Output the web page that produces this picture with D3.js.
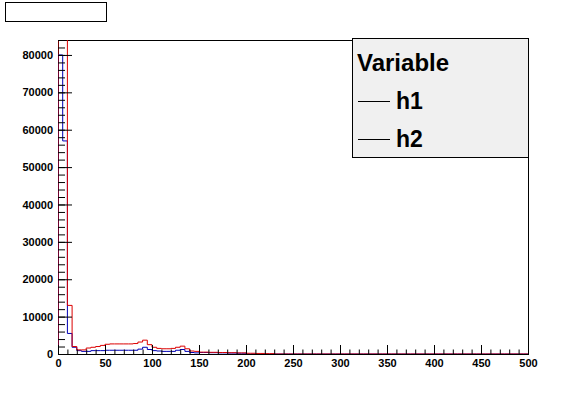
<!DOCTYPE html>
<html>
<head>
<meta charset="utf-8">
<script src="https://cdn.jsdelivr.net/npm/d3@7"></script>
<style>
  body { margin: 0; background: #fff; }
  svg { display: block; }
  text { font-family: "Liberation Sans", Arial, Helvetica, sans-serif; }
</style>
</head>
<body>
<div id="chart"></div>
<script>
// histogram binning: 100 bins of width 5 over [0, 500]
const binEdges = d3.range(0, 505, 5);

// h1 (blue) bin contents, bins past the list are empty
const h1Values = [80000, 57000, 5500, 1800, 900, 700, 700, 900, 900, 900,
  1000, 1000, 1000, 1000, 1000, 1000, 1000, 1300, 1800, 1200,
  900, 800, 700, 700, 700, 1000, 1200, 700, 400, 300,
  400, 400, 350, 350, 300, 300, 250, 250, 200, 200];

// h2 (red) bin contents
const h2Values = [95000, 95000, 13000, 2000, 1100, 1100, 1600, 1800, 2000, 2300,
  2600, 2700, 2700, 2700, 2700, 2700, 2800, 3200, 3700, 2500,
  1800, 1500, 1400, 1400, 1500, 1800, 2100, 1400, 800, 700,
  500, 500, 450, 450, 400, 400, 350, 350, 300, 300,
  200, 200, 150, 150, 100, 100];

const xMajorTicks = d3.range(0, 501, 50);
const xMinorTicks = d3.range(0, 501, 10);
const yMajorTicks = d3.range(0, 80001, 10000);
const yMinorTicks = d3.range(0, 84001, 2000);

const legendTitle = "Variable";
const legendEntries = ["h1", "h2"];

const width = 587, height = 394;
const frame = { left: 58, right: 528, top: 40, bottom: 354 };

const svg = d3.select("#chart").append("svg")
  .attr("width", width)
  .attr("height", height);

svg.append("rect").attr("width", width).attr("height", height).attr("fill", "#fff");

const x = d3.scaleLinear().domain([0, 500]).range([frame.left, frame.right]);
const y = d3.scaleLinear().domain([0, 84000]).range([frame.bottom, frame.top]);

// clip histograms to the frame
svg.append("clipPath").attr("id", "frame-clip")
  .append("rect")
  .attr("x", frame.left).attr("y", frame.top)
  .attr("width", frame.right - frame.left)
  .attr("height", frame.bottom - frame.top);

// frame
svg.append("rect")
  .attr("x", frame.left + 0.5).attr("y", frame.top + 0.5)
  .attr("width", frame.right - frame.left)
  .attr("height", frame.bottom - frame.top)
  .attr("fill", "none")
  .attr("stroke", "#000");

// step outline like ROOT "hist" drawing
function stepPath(values) {
  const pts = [[x(0), y(0)]];
  for (let i = 0; i < binEdges.length - 1; i++) {
    const v = values[i] || 0;
    pts.push([x(binEdges[i]), y(v)]);
    pts.push([x(binEdges[i + 1]), y(v)]);
  }
  pts.push([x(500), y(0)]);
  return d3.line()(pts);
}

const histLayer = svg.append("g").attr("clip-path", "url(#frame-clip)");

histLayer.append("path")
  .attr("d", stepPath(h1Values))
  .attr("fill", "none")
  .attr("stroke", "#0000b4")
  .attr("stroke-width", 1);

histLayer.append("path")
  .attr("d", stepPath(h2Values))
  .attr("fill", "none")
  .attr("stroke", "#dc0000")
  .attr("stroke-width", 1);

// axes, ticks pointing into the frame
function styleAxis(g) {
  g.select(".domain").remove();
  g.selectAll("line").attr("stroke", "#000");
  g.selectAll("text")
    .attr("fill", "#000")
    .style("font-size", "11px")
    .style("font-weight", "bold");
}

svg.append("g")
  .attr("transform", `translate(0,${frame.bottom})`)
  .call(d3.axisBottom(x).tickValues(xMinorTicks).tickSize(-4.5).tickFormat(""))
  .call(styleAxis);

svg.append("g")
  .attr("transform", `translate(0,${frame.bottom})`)
  .call(d3.axisBottom(x).tickValues(xMajorTicks).tickSize(-9).tickPadding(5).tickFormat(d3.format("d")))
  .call(styleAxis);

svg.append("g")
  .attr("transform", `translate(${frame.left},0)`)
  .call(d3.axisLeft(y).tickValues(yMinorTicks).tickSize(-7).tickFormat(""))
  .call(styleAxis);

svg.append("g")
  .attr("transform", `translate(${frame.left},0)`)
  .call(d3.axisLeft(y).tickValues(yMajorTicks).tickSize(-14).tickPadding(5).tickFormat(d3.format("d")))
  .call(styleAxis);

// x-axis baseline
svg.append("line")
  .attr("x1", frame.left).attr("x2", frame.right)
  .attr("y1", frame.bottom + 0.5).attr("y2", frame.bottom + 0.5)
  .attr("stroke", "#000");

// empty title box
svg.append("rect")
  .attr("x", 5.5).attr("y", 2.5)
  .attr("width", 101).attr("height", 19)
  .attr("fill", "#fff")
  .attr("stroke", "#000");

// legend
const legend = svg.append("g");
legend.append("rect")
  .attr("x", 352.5).attr("y", 38.5)
  .attr("width", 176).attr("height", 119)
  .attr("fill", "#f0f0f0")
  .attr("stroke", "#000");

legend.append("text")
  .attr("x", 357).attr("y", 71)
  .style("font-size", "24px")
  .style("font-weight", "bold")
  .text(legendTitle);

legendEntries.forEach((name, i) => {
  const cy = 101 + i * 38;
  legend.append("line")
    .attr("x1", 358).attr("x2", 390)
    .attr("y1", cy + 0.5).attr("y2", cy + 0.5)
    .attr("stroke", "#000");
  legend.append("text")
    .attr("x", 396).attr("y", cy + 8)
    .style("font-size", "23px")
    .style("font-weight", "bold")
    .text(name);
});
</script>
</body>
</html>
